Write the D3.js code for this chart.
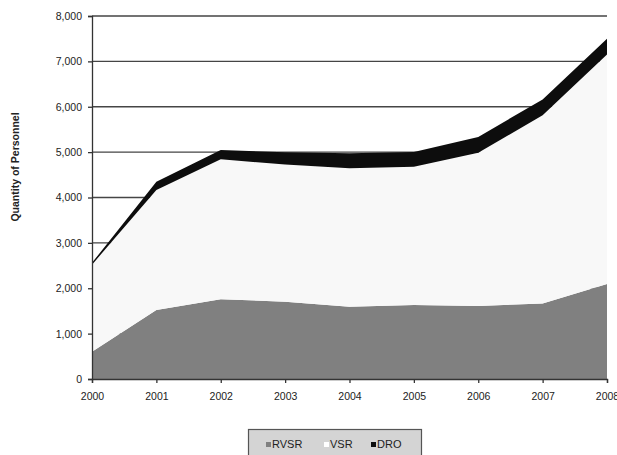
<!DOCTYPE html>
<html>
<head>
<meta charset="utf-8">
<script src="https://cdn.jsdelivr.net/npm/d3@7"></script>
<style>
  html, body { margin: 0; padding: 0; background: #fff; }
  svg { display: block; font-family: "Liberation Sans", Arial, sans-serif; }
</style>
</head>
<body>
<svg id="chart" width="617" height="455"></svg>
<script>
// Personnel by year, stacked: RVSR at the bottom, VSR in the middle, DRO on top
const years = [2000, 2001, 2002, 2003, 2004, 2005, 2006, 2007, 2008];
const rvsr  = [600, 1520, 1755, 1705, 1595, 1630, 1610, 1665, 2095];
const vsr   = [1920, 2645, 3090, 3020, 3050, 3045, 3375, 4150, 5055];
const dro   = [40, 180, 200, 275, 330, 330, 350, 345, 350];
const seriesNames = ["RVSR", "VSR", "DRO"];
const seriesColors = ["#808080", "#f8f8f8", "#0d0d0d"];
const yTicks = [0, 1000, 2000, 3000, 4000, 5000, 6000, 7000, 8000];

const rows = years.map((yr, i) => ({ year: yr, RVSR: rvsr[i], VSR: vsr[i], DRO: dro[i] }));
const stacked = d3.stack().keys(seriesNames)(rows);

const svg = d3.select("#chart");
const margin = { left: 92, right: 10, top: 16, bottom: 76 };
const W = 617, H = 455;

const x = d3.scaleLinear().domain([2000, 2008]).range([margin.left, W - margin.right]);
const y = d3.scaleLinear().domain([0, 8000]).range([H - margin.bottom, margin.top]);

// horizontal gridlines behind the areas
svg.append("g")
  .selectAll("line")
  .data(yTicks.filter(t => t > 0))
  .join("line")
  .attr("x1", x.range()[0]).attr("x2", x.range()[1])
  .attr("y1", d => y(d)).attr("y2", d => y(d))
  .attr("stroke", "#454545").attr("stroke-width", 1.4);

// stacked areas
const area = d3.area()
  .x(d => x(d.data.year))
  .y0(d => y(d[0]))
  .y1(d => y(d[1]));

svg.append("g")
  .selectAll("path")
  .data(stacked)
  .join("path")
  .attr("d", area)
  .attr("fill", (d, i) => seriesColors[i]);

// y axis
const yAxis = d3.axisLeft(y)
  .tickValues(yTicks)
  .tickFormat(d3.format(","))
  .tickSize(4)
  .tickPadding(6);
const gy = svg.append("g").attr("transform", `translate(${margin.left},0)`).call(yAxis);
gy.select(".domain").attr("stroke", "#333").attr("stroke-width", 1.3);
gy.selectAll(".tick line").attr("stroke", "#333").attr("stroke-width", 1.3);
gy.selectAll("text").attr("font-size", 10.5).attr("fill", "#222")
  .attr("font-family", "'Liberation Sans', Arial, sans-serif");

// x axis
const xAxis = d3.axisBottom(x)
  .tickValues(years)
  .tickFormat(d3.format("d"))
  .tickSize(4)
  .tickPadding(10);
const gx = svg.append("g").attr("transform", `translate(0,${y(0)})`).call(xAxis);
gx.select(".domain").attr("stroke", "#333").attr("stroke-width", 1.3);
gx.selectAll(".tick line").attr("stroke", "#333").attr("stroke-width", 1.3);
gx.selectAll("text").attr("font-size", 10.5).attr("fill", "#222")
  .attr("font-family", "'Liberation Sans', Arial, sans-serif");

// y axis title
svg.append("text")
  .attr("transform", "translate(19,167) rotate(-90)")
  .attr("text-anchor", "middle")
  .attr("font-size", 10.5)
  .attr("font-weight", "bold")
  .attr("fill", "#222")
  .text("Quantity of Personnel");

// legend
const legend = svg.append("g");
legend.append("rect")
  .attr("x", 248.5).attr("y", 429.5)
  .attr("width", 173).attr("height", 30)
  .attr("fill", "#d4d4d4")
  .attr("stroke", "#555").attr("stroke-width", 1.2);

const legendX = [266, 324, 371];
const items = legend.selectAll("g.item")
  .data(seriesNames)
  .join("g")
  .attr("class", "item")
  .attr("transform", (d, i) => `translate(${legendX[i]},443)`);
items.append("rect")
  .attr("x", 0).attr("y", -1).attr("width", 5).attr("height", 5)
  .attr("fill", (d, i) => i === 1 ? "#ffffff" : seriesColors[i]);
items.append("text")
  .attr("x", 6).attr("y", 4.5)
  .attr("font-size", 11)
  .attr("fill", "#222")
  .text(d => d);
</script>
</body>
</html>
